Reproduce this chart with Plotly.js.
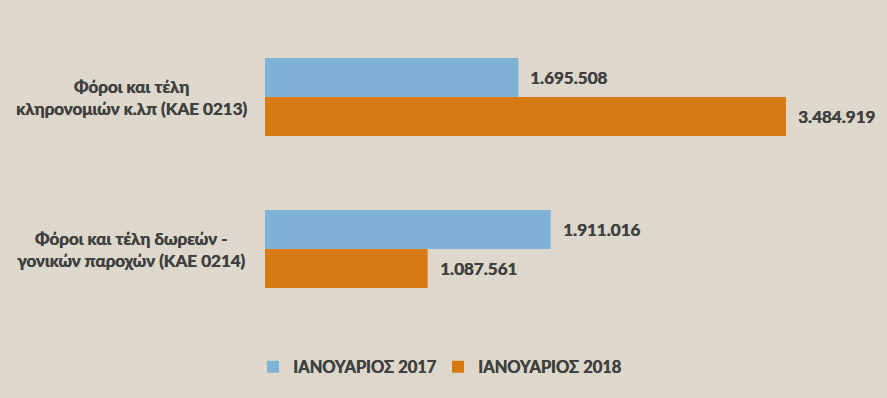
<!DOCTYPE html>
<html>
<head>
<meta charset="utf-8">
<script src="https://cdn.plot.ly/plotly-3.0.1.min.js"></script>
<style>html,body{margin:0;padding:0;background:#ddd8cb;}#chart{width:887px;height:398px;}</style>
</head>
<body>
<div id="chart"></div>
<script>
var categories = ["Φόροι και τέλη<br>κληρονομιών κ.λπ (ΚΑΕ 0213)", "Φόροι και τέλη δωρεών -<br>γονικών παροχών (ΚΑΕ 0214)"];
var seriesNames = ["ΙΑΝΟΥΑΡΙΟΣ 2017", "ΙΑΝΟΥΑΡΙΟΣ 2018"];
var values2017 = [1695508, 1911016];
var values2018 = [3484919, 1087561];

var colors = ["#7fb2d6", "#d67b12"];
var textColor = "#404040";
var fontFam = "Lato, 'Noto Sans', sans-serif";
var shadow = "0.5px 0 0 #404040";

var traces = [
  {type: "bar", orientation: "h", name: seriesNames[0], y: categories, x: values2017,
   marker: {color: colors[0]}, hoverinfo: "none"},
  {type: "bar", orientation: "h", name: seriesNames[1], y: categories, x: values2018,
   marker: {color: colors[1]}, hoverinfo: "none"},
  // invisible spacer entry so the last legend label is not clipped
  {type: "scatter", mode: "markers", name: "\u00a0", x: [null], y: [null],
   marker: {color: "rgba(0,0,0,0)", size: 1}, hoverinfo: "none", showlegend: true}
];

function fmt(v) { return v.toString().replace(/\B(?=(\d{3})+(?!\d))/g, "."); }

var annotations = [];
categories.forEach(function (c) {
  annotations.push({xref: "paper", yref: "y", x: -0.224, y: c, text: c, showarrow: false,
    xanchor: "center", yanchor: "middle", align: "center",
    font: {family: fontFam, size: 17, color: textColor, weight: "bold", shadow: shadow}});
});
[values2017, values2018].forEach(function (vals, si) {
  vals.forEach(function (v, ci) {
    annotations.push({xref: "x", yref: "y", x: v, y: categories[ci], text: fmt(v), showarrow: false,
      xanchor: "left", yanchor: "middle", xshift: 10, yshift: si === 0 ? 19.5 : -19.5,
      font: {family: fontFam, size: 17, color: textColor, weight: "bold", shadow: shadow}});
  });
});

var layout = {
  width: 887, height: 398,
  paper_bgcolor: "#ddd8cb", plot_bgcolor: "#ddd8cb",
  margin: {l: 265, r: 24, t: 21, b: 73, pad: 0},
  barmode: "group", bargap: 0.487, bargroupgap: 0,
  xaxis: {range: [0, 4000000], showgrid: false, zeroline: false, showticklabels: false, showline: false, ticks: ""},
  yaxis: {autorange: "reversed", showticklabels: false, showgrid: false, zeroline: false, showline: false, ticks: ""},
  showlegend: true,
  legend: {orientation: "h", x: -0.02, xanchor: "left", y: -0.138, yanchor: "middle",
    entrywidth: 140, entrywidthmode: "pixels",
    font: {family: fontFam, size: 16.5, color: textColor, weight: "bold", shadow: shadow}, bgcolor: "rgba(0,0,0,0)", traceorder: "normal"},
  annotations: annotations,
  font: {family: fontFam, color: textColor}
};

Plotly.newPlot("chart", traces, layout, {displayModeBar: false, staticPlot: true});
</script>
</body>
</html>
